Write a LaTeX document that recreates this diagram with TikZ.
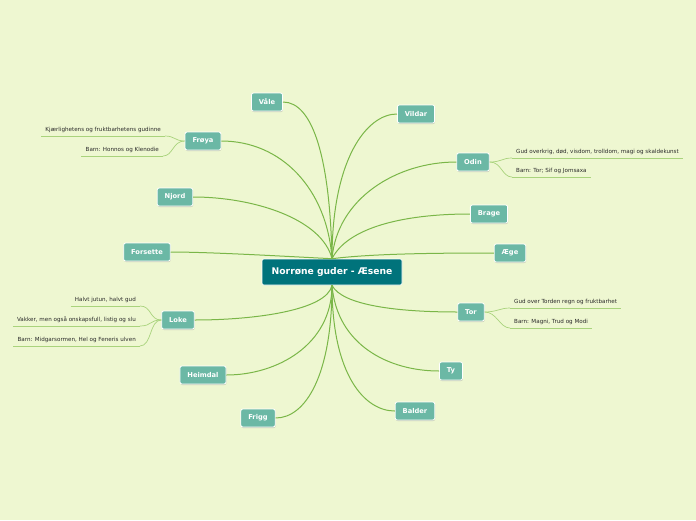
\documentclass[tikz,border=0pt]{standalone}
\usepackage{fontspec}
\setmainfont{DejaVu Sans}
\usepackage{tikz}
\usetikzlibrary{shadows}

\definecolor{bg}{HTML}{EEF7D1}
\definecolor{godfill}{HTML}{6BB8A5}
\definecolor{topfill}{HTML}{00737B}
\definecolor{branch}{HTML}{7AB648}
\definecolor{twig}{HTML}{A9D37C}
\definecolor{leaftext}{HTML}{2A2A2A}

\begin{document}
\begin{tikzpicture}[x=1pt, y=-1pt,
		god/.style={rectangle, rounded corners=2pt, fill=godfill, draw=white, line width=0.8pt,
			text=white, font=\fontsize{6.7}{8}\selectfont\bfseries, minimum height=18pt, inner xsep=7.5pt,
			drop shadow={shadow xshift=0.4pt, shadow yshift=-1pt, opacity=0.35}},
		top/.style={rectangle, rounded corners=2pt, fill=topfill, draw=white, line width=0.6pt,
			text=white, font=\fontsize{9.2}{11}\selectfont\bfseries, minimum height=26pt, minimum width=140pt},
		leaf/.style={font=\fontsize{5.6}{6.5}\selectfont, text=leaftext, inner xsep=4pt, inner ysep=3pt},
		link/.style={draw=branch, line width=1pt},
		twigline/.style={draw=twig, line width=0.7pt}]
			\fill[bg] (0,0) rectangle (696,520);
			\useasboundingbox (0,0) rectangle (696,520);

			\node[top](centre) at (332,272) {Norrøne guder - Æsene};

			\node[god](vale) at (267,102) {Våle};
			\node[god](froya) at (203,141) {Frøya};
			\node[god](njord) at (175,197) {Njord};
			\node[god](forsette) at (147,252) {Forsette};
			\node[god](loke) at (178,320) {Loke};
			\node[god](heimdal) at (203,375) {Heimdal};
			\node[god](frigg) at (258,418) {Frigg};
			\node[god](vildar) at (416,114) {Vildar};
			\node[god](odin) at (473,162) {Odin};
			\node[god](brage) at (489,214) {Brage};
			\node[god](aege) at (510,253) {Æge};
			\node[god](tor) at (471,312) {Tor};
			\node[god](ty) at (451,371) {Ty};
			\node[god](balder) at (415,411) {Balder};

			% detaljer
			\node[leaf, anchor=south east](froyaA) at (165,136) {Kjærlighetens og fruktbarhetens gudinne};
			\node[leaf, anchor=south east](froyaB) at (163,156) {Barn: Honnos og Klenodie};
			\node[leaf, anchor=south west](odinA) at (512,158) {Gud overkrig, død, visdom, trolldom, magi og skaldekunst};
			\node[leaf, anchor=south west](odinB) at (512,177) {Barn: Tor; Sif og Jomsaxa};
			\node[leaf, anchor=south east](lokeA) at (140,306) {Halvt jutun, halvt gud};
			\node[leaf, anchor=south east](lokeB) at (140,326) {Vakker, men også onskapsfull, listig og slu};
			\node[leaf, anchor=south east](lokeC) at (140,346) {Barn: Midgarsormen, Hel og Feneris ulven};
			\node[leaf, anchor=south west](torA) at (510,308) {Gud over Torden regn og fruktbarhet};
			\node[leaf, anchor=south west](torB) at (510,328) {Barn: Magni, Trud og Modi};

			\foreach \l in {froyaA, froyaB, odinA, odinB, lokeA, lokeB, lokeC, torA, torB}
				\draw[twigline] (\l.south west) -- (\l.south east);

			% venstre side
			\draw[link] (centre.north) .. controls +(-2,-100) and +(30,0) .. (vale.east);
			\draw[link] (centre.north) .. controls +(-5,-70) and +(60,0) .. (froya.east);
			\draw[link] (centre.north) .. controls +(-10,-40) and +(60,0) .. (njord.east);
			\draw[link] (centre.north) .. controls +(-40,-2) and +(40,0) .. (forsette.east);
			\draw[link] (centre.south) .. controls +(-5,25) and +(60,0) .. (loke.east);
			\draw[link] (centre.south) .. controls +(0,60) and +(50,0) .. (heimdal.east);
			\draw[link] (centre.south) .. controls +(0,90) and +(30,0) .. (frigg.east);

			% høyre side
			\draw[link] (centre.north) .. controls +(0,-100) and +(-30,0) .. (vildar.west);
			\draw[link] (centre.north) .. controls +(5,-60) and +(-60,0) .. (odin.west);
			\draw[link] (centre.north) .. controls +(15,-30) and +(-70,0) .. (brage.west);
			\draw[link] (centre.north) .. controls +(40,-5) and +(-60,0) .. (aege.west);
			\draw[link] (centre.south) .. controls +(10,20) and +(-60,0) .. (tor.west);
			\draw[link] (centre.south) .. controls +(5,60) and +(-50,0) .. (ty.west);
			\draw[link] (centre.south) .. controls +(0,90) and +(-30,0) .. (balder.west);

			% kvister
			\draw[twigline] (froya.west) .. controls +(-10,0) and +(10,0) .. (froyaA.south east);
			\draw[twigline] (froya.west) .. controls +(-12,0) and +(10,0) .. (froyaB.south east);
			\draw[twigline] (odin.east) .. controls +(12,0) and +(-10,0) .. (odinA.south west);
			\draw[twigline] (odin.east) .. controls +(12,0) and +(-10,0) .. (odinB.south west);
			\draw[twigline] (loke.west) .. controls +(-12,0) and +(12,0) .. (lokeA.south east);
			\draw[twigline] (loke.west) .. controls +(-12,0) and +(12,0) .. (lokeB.south east);
			\draw[twigline] (loke.west) .. controls +(-12,0) and +(12,0) .. (lokeC.south east);
			\draw[twigline] (tor.east) .. controls +(12,0) and +(-10,0) .. (torA.south west);
			\draw[twigline] (tor.east) .. controls +(12,0) and +(-10,0) .. (torB.south west);
		\end{tikzpicture}
\end{document}
